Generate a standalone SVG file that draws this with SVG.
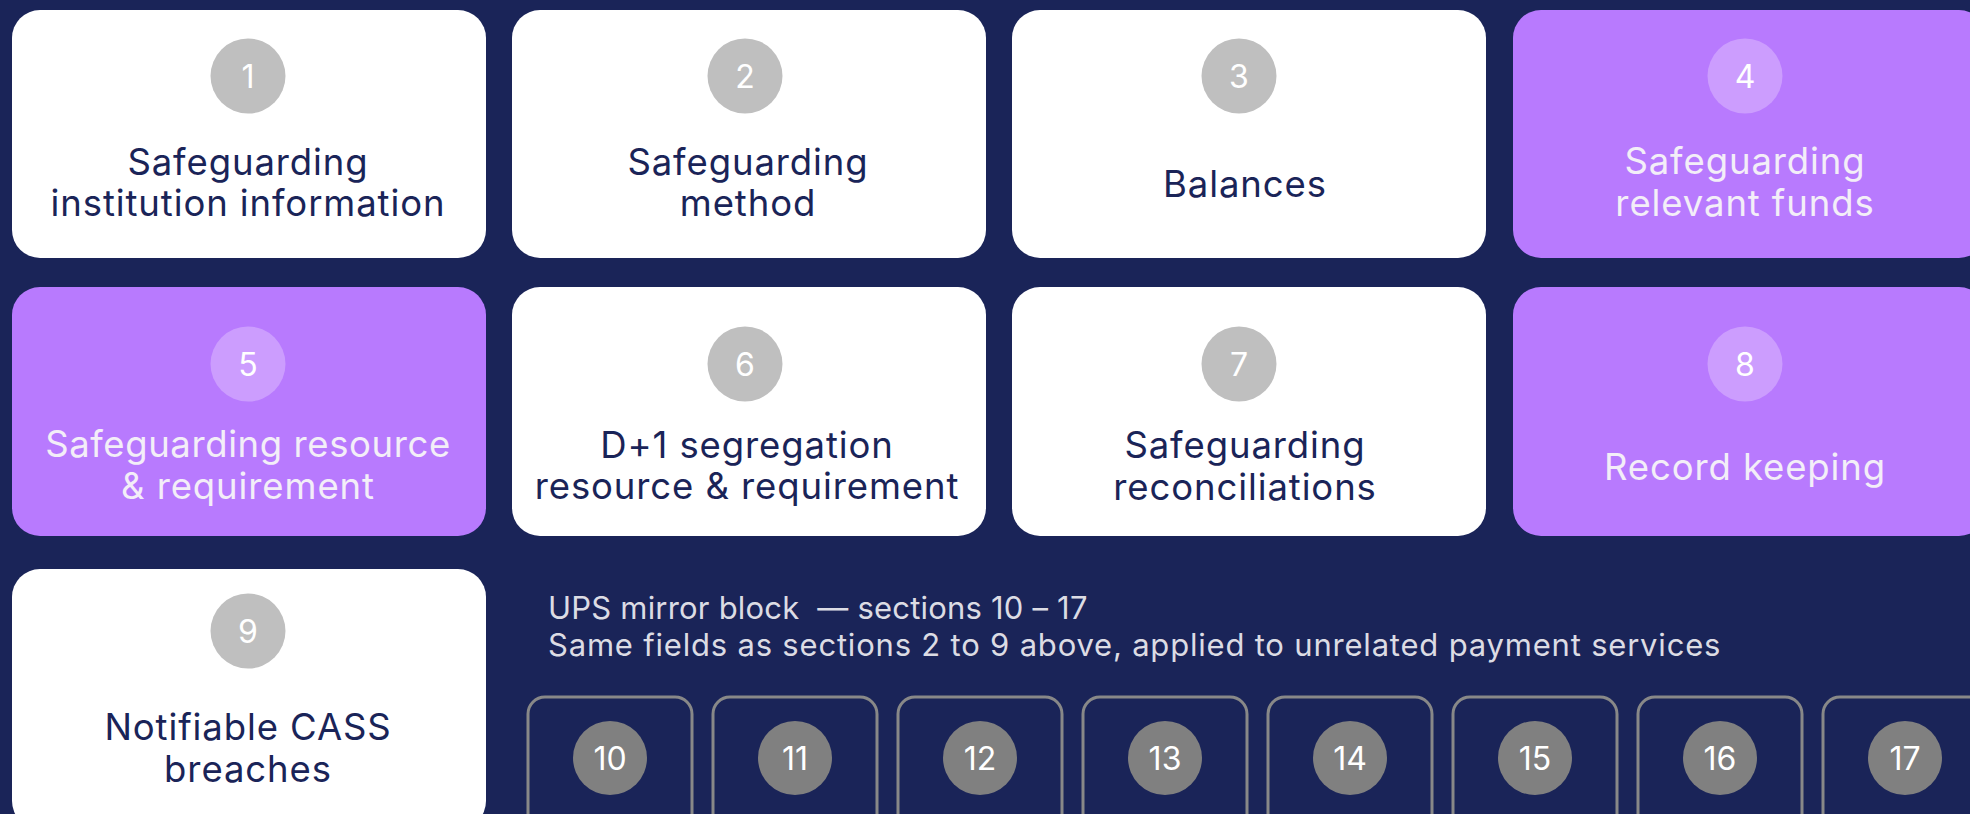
<svg xmlns="http://www.w3.org/2000/svg" width="1970" height="814" viewBox="0 0 1970 814">
  <style>
    .card { fill: #ffffff; }
    .card-hi { fill: #b87afe; }
    .badge { fill: #bfbfbf; }
    .badge-hi { fill: #cc9dfe; }
    .badge-ups { fill: #808080; }
    .ups-box { fill: none; stroke: #888888; stroke-width: 3; }
    .num { font-family: Inter, "Liberation Sans", sans-serif; font-size: 32px; fill: #ffffff; text-anchor: middle; }
    .lbl { font-family: Inter, "Liberation Sans", sans-serif; font-size: 36.5px; letter-spacing: 0.9px; fill: #1a2458; text-anchor: middle; }
    .lbl-hi { font-family: Inter, "Liberation Sans", sans-serif; font-size: 36.5px; letter-spacing: 0.9px; fill: #f3eef8; text-anchor: middle; }
    .note { font-family: Inter, "Liberation Sans", sans-serif; font-size: 31px; fill: #dcdce4; white-space: pre; }
  </style>

  <rect x="0" y="0" width="1970" height="814" fill="#1a2458"/>

  <!-- Row 1 -->
  <g id="section-1">
    <rect class="card" x="12" y="10" width="474" height="248" rx="28"/>
    <circle class="badge" cx="248" cy="76" r="37.5"/>
    <text class="num" x="248" y="88">1</text>
    <text class="lbl" x="248" y="175">Safeguarding</text>
    <text class="lbl" x="248" y="216">institution information</text>
  </g>
  <g id="section-2">
    <rect class="card" x="512" y="10" width="474" height="248" rx="28"/>
    <circle class="badge" cx="745" cy="76" r="37.5"/>
    <text class="num" x="745" y="88">2</text>
    <text class="lbl" x="748" y="175">Safeguarding</text>
    <text class="lbl" x="748" y="216">method</text>
  </g>
  <g id="section-3">
    <rect class="card" x="1012" y="10" width="474" height="248" rx="28"/>
    <circle class="badge" cx="1239" cy="76" r="37.5"/>
    <text class="num" x="1239" y="88">3</text>
    <text class="lbl" x="1245" y="197">Balances</text>
  </g>
  <g id="section-4">
    <rect class="card-hi" x="1513" y="10" width="474" height="248" rx="28"/>
    <circle class="badge-hi" cx="1745" cy="76" r="37.5"/>
    <text class="num" x="1745" y="88">4</text>
    <text class="lbl-hi" x="1745" y="174">Safeguarding</text>
    <text class="lbl-hi" x="1745" y="216">relevant funds</text>
  </g>

  <!-- Row 2 -->
  <g id="section-5">
    <rect class="card-hi" x="12" y="287" width="474" height="249" rx="28"/>
    <circle class="badge-hi" cx="248" cy="364" r="37.5"/>
    <text class="num" x="248" y="376">5</text>
    <text class="lbl-hi" x="248" y="457" style="letter-spacing:0.6px">Safeguarding resource</text>
    <text class="lbl-hi" x="248" y="499">&amp; requirement</text>
  </g>
  <g id="section-6">
    <rect class="card" x="512" y="287" width="474" height="249" rx="28"/>
    <circle class="badge" cx="745" cy="364" r="37.5"/>
    <text class="num" x="745" y="376">6</text>
    <text class="lbl" x="747" y="458">D+1 segregation</text>
    <text class="lbl" x="747" y="499">resource &amp; requirement</text>
  </g>
  <g id="section-7">
    <rect class="card" x="1012" y="287" width="474" height="249" rx="28"/>
    <circle class="badge" cx="1239" cy="364" r="37.5"/>
    <text class="num" x="1239" y="376">7</text>
    <text class="lbl" x="1245" y="458">Safeguarding</text>
    <text class="lbl" x="1245" y="500">reconciliations</text>
  </g>
  <g id="section-8">
    <rect class="card-hi" x="1513" y="287" width="474" height="249" rx="28"/>
    <circle class="badge-hi" cx="1745" cy="364" r="37.5"/>
    <text class="num" x="1745" y="376">8</text>
    <text class="lbl-hi" x="1745" y="480">Record keeping</text>
  </g>

  <!-- Row 3 -->
  <g id="section-9">
    <rect class="card" x="12" y="569" width="474" height="260" rx="28"/>
    <circle class="badge" cx="248" cy="631" r="37.5"/>
    <text class="num" x="248" y="643">9</text>
    <text class="lbl" x="248" y="740">Notifiable CASS</text>
    <text class="lbl" x="248" y="782">breaches</text>
  </g>

  <!-- UPS mirror block -->
  <g id="ups-note">
    <text class="note" x="548" y="619" style="letter-spacing:0.2px">UPS mirror block  — sections 10 – 17</text>
    <text class="note" x="548" y="656" style="letter-spacing:0.8px">Same fields as sections 2 to 9 above, applied to unrelated payment services</text>
  </g>

  <g id="ups-10">
    <rect class="ups-box" x="528" y="697" width="164" height="150" rx="17"/>
    <circle class="badge-ups" cx="610" cy="758" r="37"/>
    <text class="num" x="610" y="770">10</text>
  </g>
  <g id="ups-11">
    <rect class="ups-box" x="713" y="697" width="164" height="150" rx="17"/>
    <circle class="badge-ups" cx="795" cy="758" r="37"/>
    <text class="num" x="795" y="770">11</text>
  </g>
  <g id="ups-12">
    <rect class="ups-box" x="898" y="697" width="164" height="150" rx="17"/>
    <circle class="badge-ups" cx="980" cy="758" r="37"/>
    <text class="num" x="980" y="770">12</text>
  </g>
  <g id="ups-13">
    <rect class="ups-box" x="1083" y="697" width="164" height="150" rx="17"/>
    <circle class="badge-ups" cx="1165" cy="758" r="37"/>
    <text class="num" x="1165" y="770">13</text>
  </g>
  <g id="ups-14">
    <rect class="ups-box" x="1268" y="697" width="164" height="150" rx="17"/>
    <circle class="badge-ups" cx="1350" cy="758" r="37"/>
    <text class="num" x="1350" y="770">14</text>
  </g>
  <g id="ups-15">
    <rect class="ups-box" x="1453" y="697" width="164" height="150" rx="17"/>
    <circle class="badge-ups" cx="1535" cy="758" r="37"/>
    <text class="num" x="1535" y="770">15</text>
  </g>
  <g id="ups-16">
    <rect class="ups-box" x="1638" y="697" width="164" height="150" rx="17"/>
    <circle class="badge-ups" cx="1720" cy="758" r="37"/>
    <text class="num" x="1720" y="770">16</text>
  </g>
  <g id="ups-17">
    <rect class="ups-box" x="1823" y="697" width="164" height="150" rx="17"/>
    <circle class="badge-ups" cx="1905" cy="758" r="37"/>
    <text class="num" x="1905" y="770">17</text>
  </g>

  <!-- no connectors in this layout -->
  <g id="connectors"/>
</svg>
